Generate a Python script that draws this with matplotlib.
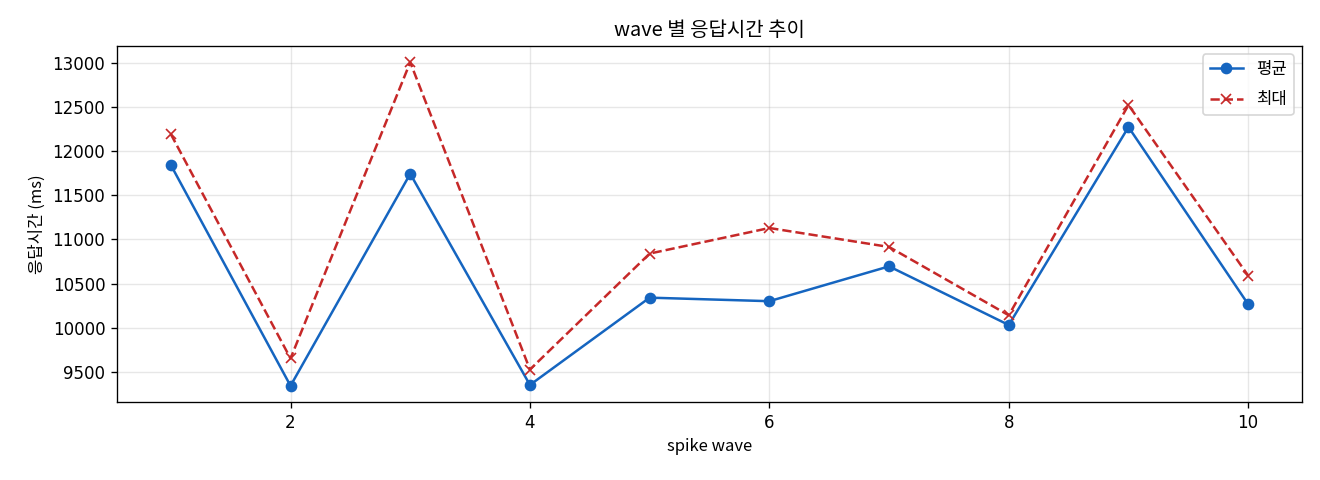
import matplotlib
matplotlib.use("Agg")
import matplotlib.pyplot as plt

plt.rcParams['font.family'] = ['Noto Sans CJK KR', 'DejaVu Sans']
plt.rcParams['axes.unicode_minus'] = False

# spike wave 별 응답시간 (ms)
waves = [1, 2, 3, 4, 5, 6, 7, 8, 9, 10]
mean_ms = [11845, 9340, 11745, 9350, 10340, 10300, 10695, 10030, 12275, 10265]
max_ms = [12195, 9650, 13010, 9525, 10840, 11130, 10915, 10140, 12525, 10590]

fig, ax = plt.subplots(figsize=(11, 4), dpi=120)
ax.plot(waves, mean_ms, marker='o', color='#1565C0', linewidth=1.5, label='평균')
ax.plot(waves, max_ms, marker='x', linestyle='--', color='#C62828', linewidth=1.5, label='최대')

ax.set_title("wave 별 응답시간 추이")
ax.set_xlabel("spike wave")
ax.set_ylabel("응답시간 (ms)")
ax.grid(True, alpha=0.3)
ax.legend(loc='upper right', labelspacing=0.8)
ax.tick_params(labelfontfamily='DejaVu Sans')

fig.subplots_adjust(left=0.0886, right=0.9864, top=0.904, bottom=0.1625)
plt.savefig("out.png")
plt.close()
